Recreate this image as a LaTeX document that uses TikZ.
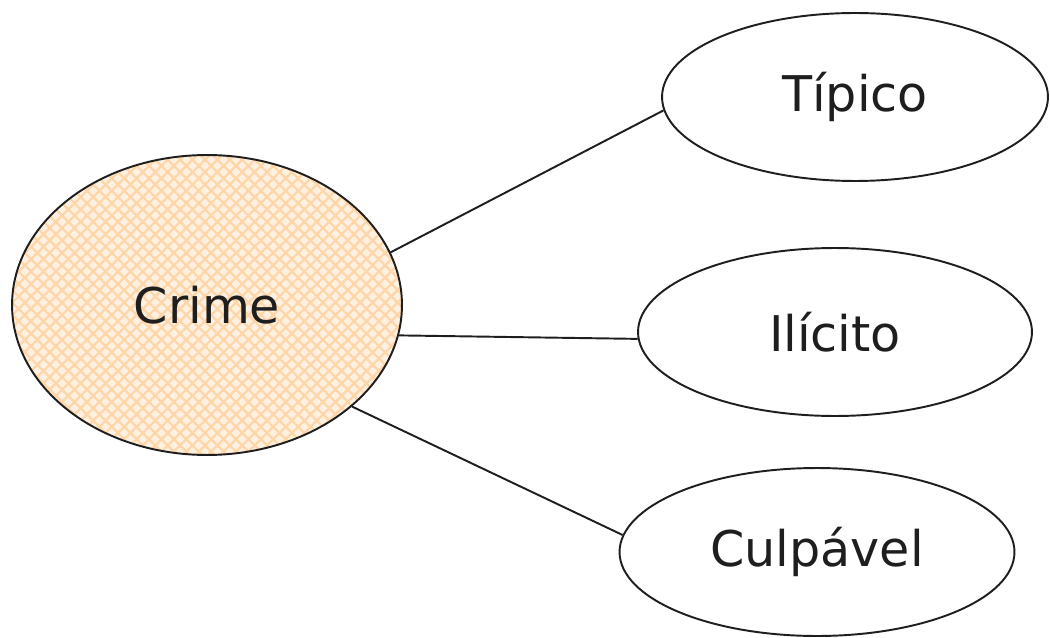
\documentclass[tikz,border=0pt]{standalone}
\usepackage{fontspec}
\setmainfont{DejaVu Sans}
\usetikzlibrary{shapes.geometric,patterns.meta}
\definecolor{ink}{HTML}{1E1E1E}
\definecolor{peach}{HTML}{FFF1E2}
\definecolor{hatch}{HTML}{FFD6A8}
\tikzset{
  bubble/.style={ellipse, draw=ink, line width=1.1pt, inner sep=0pt, font=\fontsize{28}{32}\selectfont, text=ink},
  link/.style={draw=ink, line width=1.1pt},
  hatched/.style={draw=none, fill=peach,
    postaction={pattern={Lines[angle=45,distance=5pt,line width=1.3pt]}, pattern color=hatch},
    postaction={pattern={Lines[angle=-45,distance=5pt,line width=1.3pt]}, pattern color=hatch},
    postaction={draw=ink, line width=1.1pt}}
}
\begin{document}
\begin{tikzpicture}[x=0.02cm,y=-0.02cm]
\useasboundingbox (0,0) rectangle (1050,638);
\node[bubble, hatched, minimum width=7.8cm, minimum height=6.0cm] (crime) at (207,305) {Crime};
\node[bubble, minimum width=7.72cm, minimum height=3.36cm] (tip) at (855,97) {Típico};
\node[bubble, minimum width=7.88cm, minimum height=3.36cm] (ili) at (835,332) {Ilícito};
\node[bubble, minimum width=7.9cm, minimum height=3.36cm] (cul) at (817,552) {Culpável};
\draw[link] (crime.16) -- (tip.184);
\draw[link] (crime.-9) -- (ili.182);
\draw[link] (crime.-35) -- (cul.175);
\end{tikzpicture}
\end{document}
